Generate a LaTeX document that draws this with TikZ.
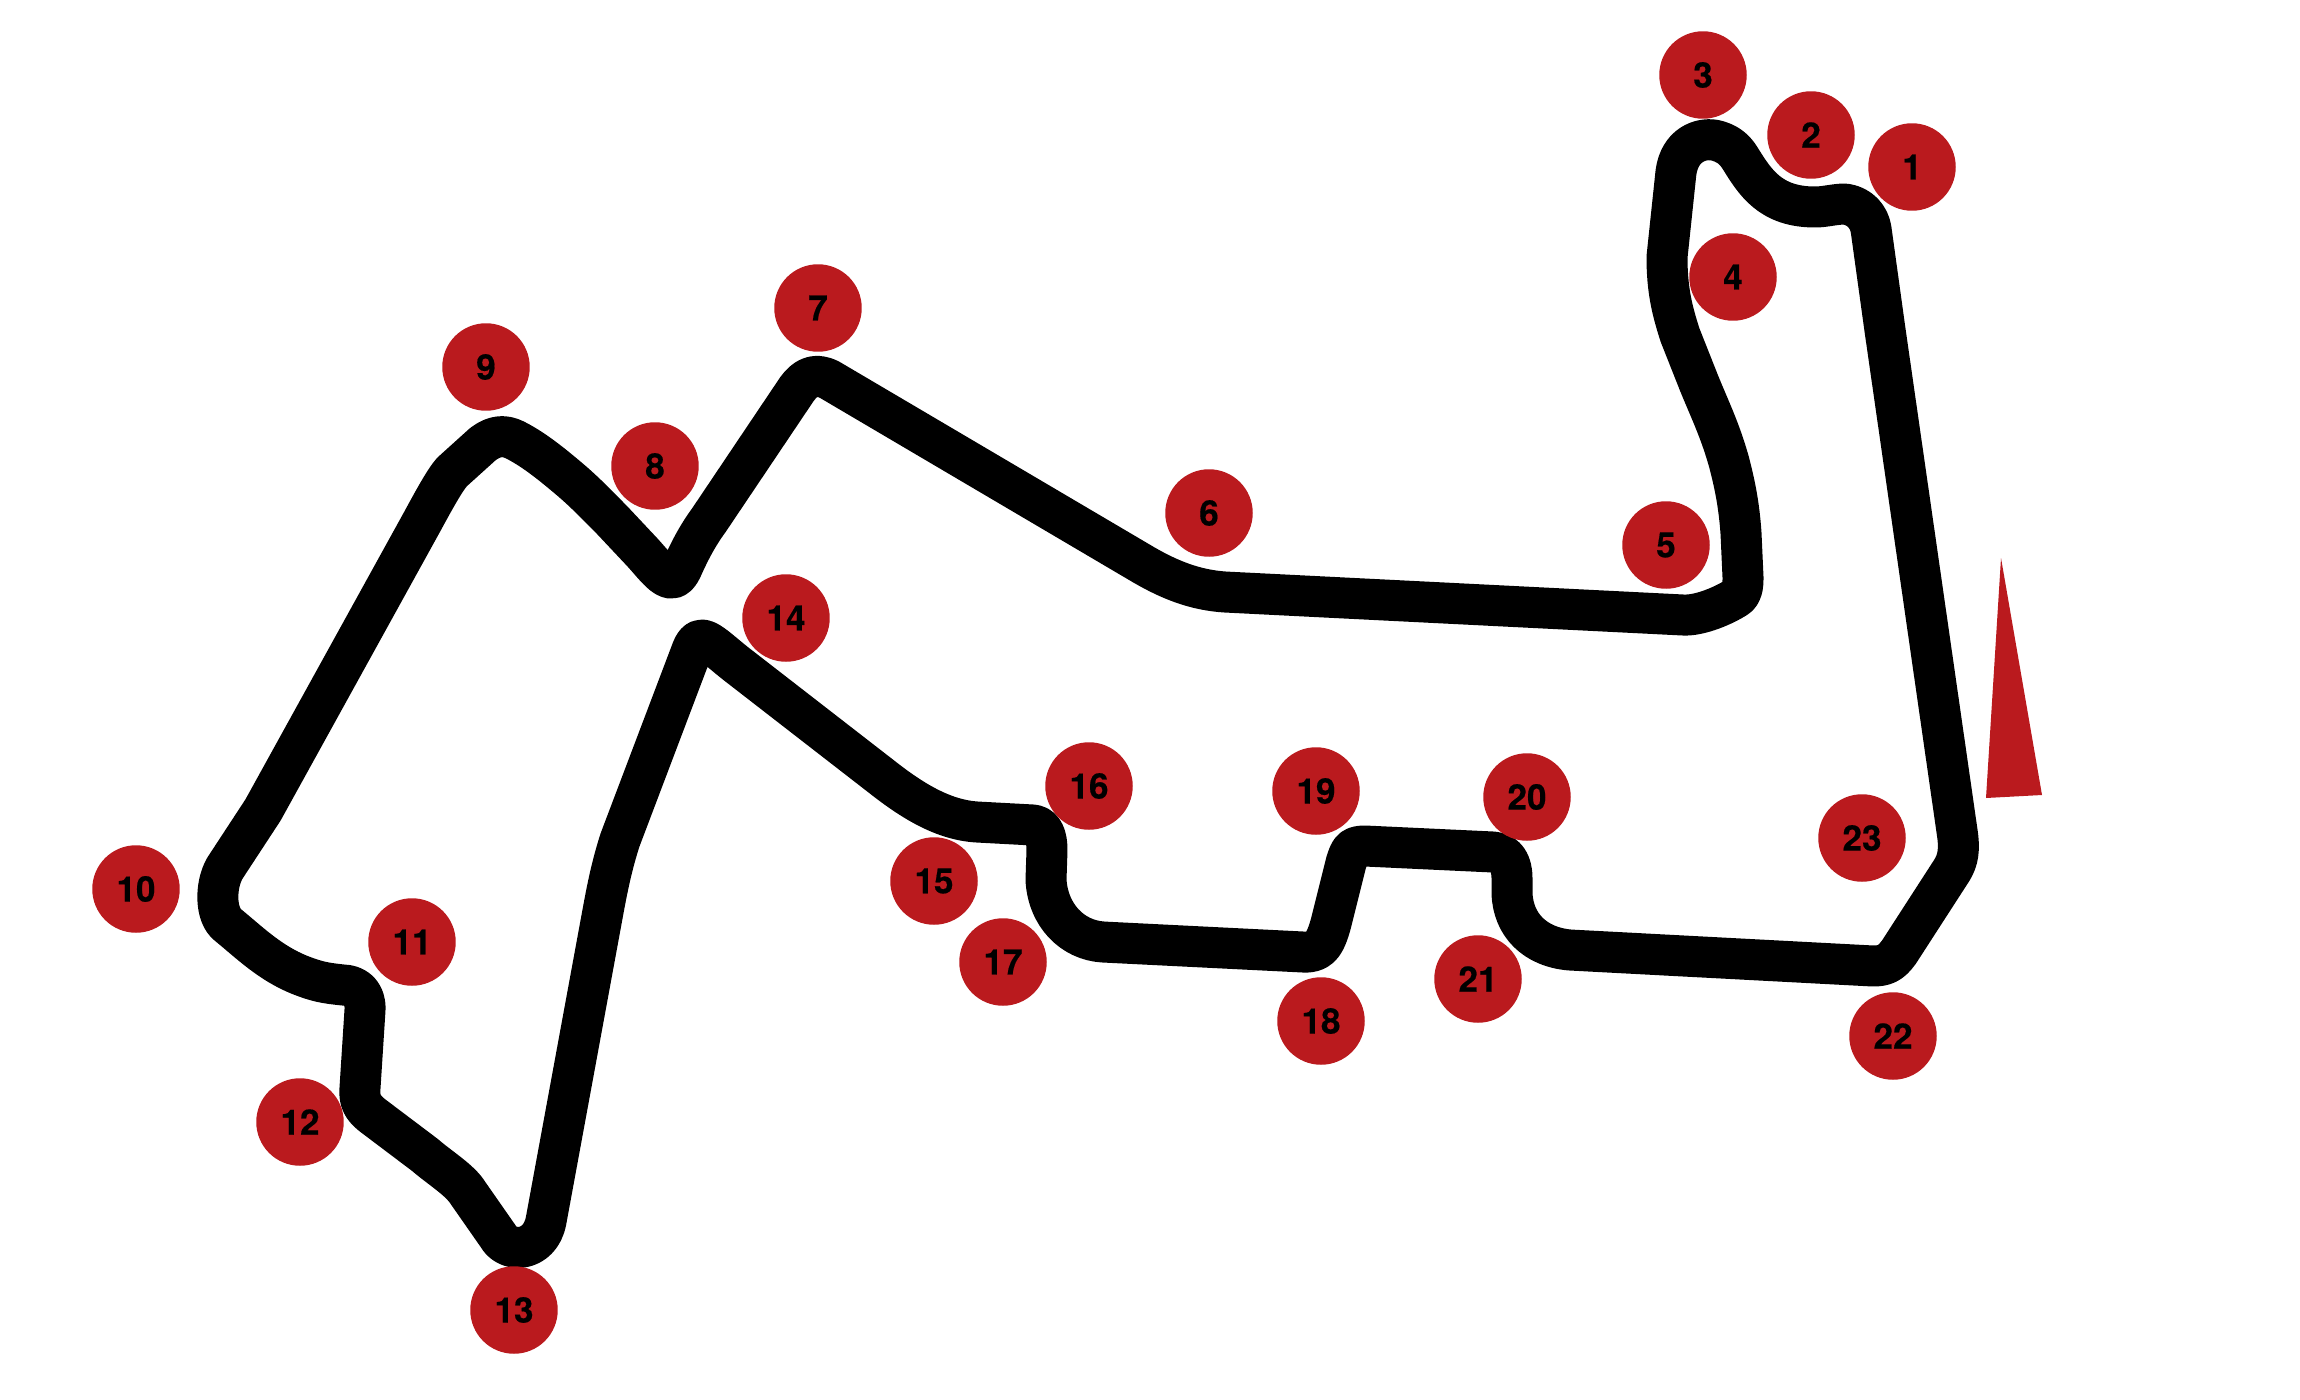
\documentclass[tikz,border=0pt]{standalone}
\usepackage{fontspec}
\setmainfont[BoldFeatures={FakeBold=0.4}]{TeX Gyre Heros}
\definecolor{tred}{HTML}{BA1A1E}
\tikzset{
  turn/.style={circle,fill=tred,draw=none,minimum size=1.75cm,inner sep=0pt,text=black,font=\fontsize{20}{20}\selectfont\bfseries},
  track/.style={draw=black,line width=0.82cm,line join=round}
}
\begin{document}
\begin{tikzpicture}[x=0.02cm,y=-0.02cm]
\useasboundingbox (0,0) rectangle (2300,1400);
\draw[track] (1885,330) -- (1957,831)
 .. controls (1960,850) and (1958,860) .. (1952,870)
 -- (1899,952)
 .. controls (1891,963) and (1885,966) .. (1873,966)
 -- (1570,950)
 .. controls (1535,947) and (1513,925) .. (1512,893)
 -- (1512,878)
 .. controls (1512,862) and (1505,853) .. (1493,852)
 -- (1365,846)
 .. controls (1352,846) and (1350,850) .. (1346,863)
 -- (1333,915)
 .. controls (1326,945) and (1320,953) .. (1303,952)
 -- (1103,942)
 .. controls (1072,940) and (1048,915) .. (1046,880)
 -- (1047,850)
 .. controls (1047,836) and (1043,826) .. (1033,825)
 -- (977,822)
 .. controls (945,820) and (915,803) .. (882,777)
 -- (735,663)
 .. controls (710,643) and (700,630) .. (692,650)
 -- (620,840)
 .. controls (612,865) and (608,885) .. (604,906)
 -- (546,1221)
 .. controls (540,1252) and (508,1254) .. (498,1236)
 -- (468,1193)
 .. controls (460,1180) and (440,1168) .. (425,1155)
 -- (372,1115)
 .. controls (362,1107) and (359,1100) .. (360,1088)
 -- (365,1010)
 .. controls (366,993) and (355,985) .. (343,985)
 .. controls (325,983) and (318,982) .. (300,975)
 .. controls (270,963) and (250,943) .. (228,925)
 .. controls (215,915) and (215,885) .. (225,868)
 -- (263,810)
 -- (422,522)
 .. controls (435,498) and (445,480) .. (452,472)
 -- (483,444)
 .. controls (495,435) and (505,435) .. (515,440)
 .. controls (535,450) and (555,467) .. (567,477)
 .. controls (585,492) and (597,505) .. (612,520)
 -- (643,553)
 .. controls (660,572) and (672,590) .. (682,568)
 .. controls (690,550) and (698,535) .. (709,520)
 -- (797,389)
 .. controls (805,378) and (815,372) .. (830,380)
 -- (1144,565)
 .. controls (1170,580) and (1195,590) .. (1225,592)
 -- (1683,615)
 .. controls (1700,616) and (1725,605) .. (1737,597)
 .. controls (1743,592) and (1743,585) .. (1743,577)
 -- (1741,533)
 .. controls (1739,505) and (1735,485) .. (1729,462)
 .. controls (1720,430) and (1710,410) .. (1699,383)
 -- (1680,335)
 .. controls (1672,310) and (1667,290) .. (1667,257)
 -- (1676,172)
 .. controls (1680,145) and (1700,138) .. (1714,140)
 .. controls (1728,143) and (1735,150) .. (1740,158)
 .. controls (1755,182) and (1770,207) .. (1815,207)
 .. controls (1825,207) and (1835,204) .. (1845,204)
 .. controls (1860,206) and (1869,217) .. (1871,229)
 -- cycle;
\fill[tred] (2001,558) -- (1986,798) -- (2042,795) -- cycle;
\node[turn] (t1) at (1912,167) {1};
\node[turn] (t2) at (1811,135) {2};
\node[turn] (t3) at (1703,75) {3};
\node[turn] (t4) at (1733,277) {4};
\node[turn] (t5) at (1666,545) {5};
\node[turn] (t6) at (1209,513) {6};
\node[turn] (t7) at (818,308) {7};
\node[turn] (t8) at (655,466) {8};
\node[turn] (t9) at (486,367) {9};
\node[turn] (t10) at (136,889) {10};
\node[turn] (t11) at (412,942) {11};
\node[turn] (t12) at (300,1122) {12};
\node[turn] (t13) at (514,1310) {13};
\node[turn] (t14) at (786,618) {14};
\node[turn] (t15) at (934,881) {15};
\node[turn] (t16) at (1089,786) {16};
\node[turn] (t17) at (1003,962) {17};
\node[turn] (t18) at (1321,1021) {18};
\node[turn] (t19) at (1316,791) {19};
\node[turn] (t20) at (1527,797) {20};
\node[turn] (t21) at (1478,979) {21};
\node[turn] (t22) at (1893,1036) {22};
\node[turn] (t23) at (1862,838) {23};
\end{tikzpicture}
\end{document}
